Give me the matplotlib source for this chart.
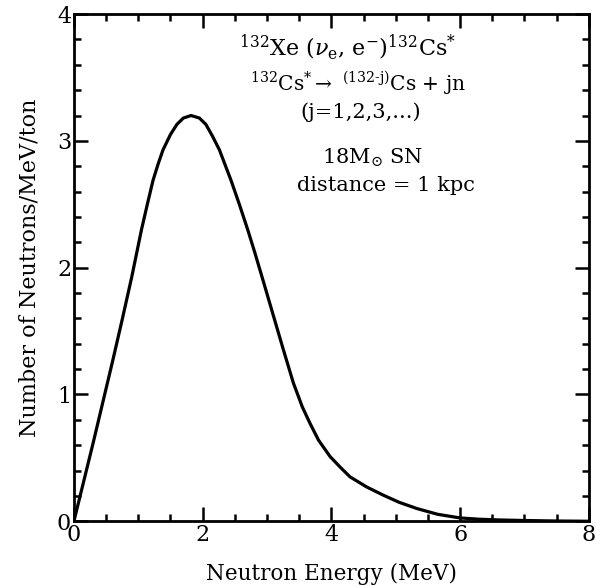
import numpy as np
import matplotlib
matplotlib.use("Agg")
import matplotlib.pyplot as plt
from matplotlib.ticker import MultipleLocator

# Data
energy = [0.0, 0.15, 0.30, 0.45, 0.60, 0.75, 0.90, 1.05, 1.15, 1.23, 1.31, 1.385, 1.50, 1.60,
          1.70, 1.82, 1.95, 2.05, 2.15, 2.26, 2.35, 2.44, 2.57, 2.70, 2.81, 2.95, 3.10, 3.25,
          3.41, 3.55, 3.67, 3.80, 3.98, 4.15, 4.29, 4.55, 4.81, 5.05, 5.33, 5.65, 6.00, 6.30,
          6.62, 7.00, 7.50, 8.00]
neutrons = [0.0, 0.31, 0.62, 0.94, 1.26, 1.59, 1.93, 2.30, 2.52, 2.69, 2.82, 2.93, 3.05, 3.13,
            3.18, 3.20, 3.18, 3.13, 3.04, 2.93, 2.81, 2.69, 2.50, 2.30, 2.12, 1.88, 1.62, 1.36,
            1.09, 0.90, 0.77, 0.64, 0.51, 0.42, 0.35, 0.27, 0.205, 0.15, 0.10, 0.055, 0.026, 0.016,
            0.010, 0.006, 0.002, 0.0]

xlim = (0, 8)
ylim = (0, 4)

plt.rcParams['font.family'] = ['DejaVu Serif']
plt.rcParams['mathtext.fontset'] = 'dejavuserif'

fig = plt.figure(figsize=(5.96, 5.87), dpi=100)
ax = fig.add_axes([0.124, 0.112, 0.864, 0.864])

ax.plot(energy, neutrons, color='black', lw=2.3, solid_joinstyle='round')

ax.set_xlim(*xlim)
ax.set_ylim(*ylim)
ax.xaxis.set_major_locator(MultipleLocator(2))
ax.xaxis.set_minor_locator(MultipleLocator(0.5))
ax.yaxis.set_major_locator(MultipleLocator(1))
ax.yaxis.set_minor_locator(MultipleLocator(0.2))
ax.tick_params(which='both', direction='in', top=True, right=True, labelsize=16, width=1.8)
ax.tick_params(which='major', length=10, pad=2)
ax.tick_params(which='minor', length=5)
for s in ax.spines.values():
    s.set_linewidth(2)

ax.set_xlabel('Neutron Energy (MeV)', fontsize=15.5, labelpad=12)
ax.set_ylabel('Number of Neutrons/MeV/ton', fontsize=16, labelpad=12)

ax.text(0.531, 0.935, r'$^{132}$Xe ($\nu_{\rm e}$, e$^{-}$)$^{132}$Cs$^{*}$',
        transform=ax.transAxes, ha='center', va='center', fontsize=16)
ax.text(0.551, 0.864, r'$^{132}$Cs$^{*}$$\rightarrow$ $^{\mathrm{(132\text{-}j)}}$Cs + jn',
        transform=ax.transAxes, ha='center', va='center', fontsize=14.5)
ax.text(0.557, 0.807, '(j=1,2,3,...)',
        transform=ax.transAxes, ha='center', va='center', fontsize=15)
ax.text(0.581, 0.716, r'18M$_{\odot}$ SN',
        transform=ax.transAxes, ha='center', va='center', fontsize=15)
ax.text(0.606, 0.663, 'distance = 1 kpc',
        transform=ax.transAxes, ha='center', va='center', fontsize=15)

fig.savefig('out.png', dpi=100)
